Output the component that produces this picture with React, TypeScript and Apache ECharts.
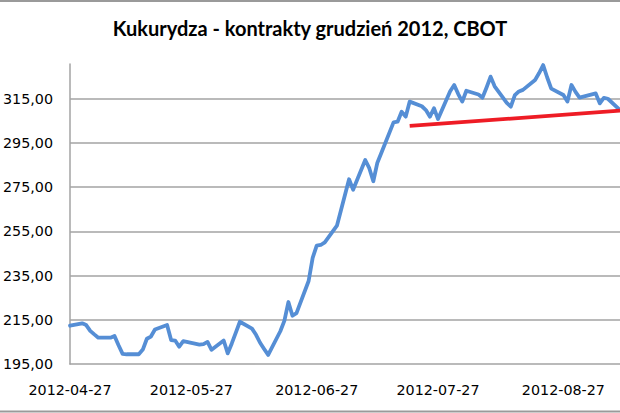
import React, { useEffect, useRef } from 'react';
import * as echarts from 'echarts';

const titleText = 'Kukurydza - kontrakty grudzień 2012, CBOT';

const dates = [
  '2012-04-27', '2012-04-30',
  '2012-05-01', '2012-05-02', '2012-05-03', '2012-05-04', '2012-05-07', '2012-05-08', '2012-05-09', '2012-05-10', '2012-05-11',
  '2012-05-14', '2012-05-15', '2012-05-16', '2012-05-17', '2012-05-18', '2012-05-21', '2012-05-22', '2012-05-23', '2012-05-24',
  '2012-05-25', '2012-05-29', '2012-05-30', '2012-05-31',
  '2012-06-01', '2012-06-04', '2012-06-05', '2012-06-06', '2012-06-07', '2012-06-08', '2012-06-11', '2012-06-12', '2012-06-13',
  '2012-06-14', '2012-06-15', '2012-06-18', '2012-06-19', '2012-06-20', '2012-06-21', '2012-06-22', '2012-06-25', '2012-06-26',
  '2012-06-27', '2012-06-28', '2012-06-29',
  '2012-07-02', '2012-07-03', '2012-07-05', '2012-07-06', '2012-07-09', '2012-07-10', '2012-07-11', '2012-07-12', '2012-07-13',
  '2012-07-16', '2012-07-17', '2012-07-18', '2012-07-19', '2012-07-20', '2012-07-23', '2012-07-24', '2012-07-25', '2012-07-26',
  '2012-07-27', '2012-07-30', '2012-07-31',
  '2012-08-01', '2012-08-02', '2012-08-03', '2012-08-06', '2012-08-07', '2012-08-08', '2012-08-09', '2012-08-10', '2012-08-13',
  '2012-08-14', '2012-08-15', '2012-08-16', '2012-08-17', '2012-08-20', '2012-08-21', '2012-08-22', '2012-08-23', '2012-08-24',
  '2012-08-27', '2012-08-28', '2012-08-29', '2012-08-30', '2012-08-31',
  '2012-09-04', '2012-09-05', '2012-09-06', '2012-09-07', '2012-09-10',
];

const prices = [
  212.3, 213.4,
  212.6, 210.0, 208.4, 206.9, 206.9, 207.7, 203.5, 199.6, 199.4,
  199.4, 201.5, 206.4, 207.4, 210.6, 212.6, 205.8, 205.6, 202.8,
  205.3, 203.8, 204.0, 205.0,
  201.4, 205.6, 199.8, 204.3, 209.2, 214.1, 211.0, 208.2, 204.6,
  201.8, 199.1, 209.8, 214.5, 223.0, 216.8, 218.0, 232.5, 243.0,
  248.5, 248.8, 250.0,
  257.5, 264.5, 278.5, 273.8, 287.2, 283.5, 277.6, 286.0, 290.5,
  304.2, 304.5, 309.0, 306.8, 313.6, 311.5, 309.8, 306.8, 310.6,
  305.7, 318.3, 321.1,
  317.0, 313.6, 318.5, 316.8, 315.4, 320.0, 324.9, 320.5, 313.0,
  311.3, 316.5, 318.2, 318.9, 323.4, 326.5, 330.1, 324.5, 319.5,
  316.6, 313.6, 321.1, 318.0, 315.4,
  317.3, 312.8, 315.3, 314.9, 309.8,
];

const trendDates = ['2012-07-20', '2012-09-10'];
const trendValues = [302.6, 309.5];

const yTicks = [195, 215, 235, 255, 275, 295, 315];
const xLabels = ['2012-04-27', '2012-05-27', '2012-06-27', '2012-07-27', '2012-08-27'];
const xMin = '2012-04-27';
const xMax = '2012-09-10';
const yMin = 195;
const yMax = 330.6;

const ts = (s: string) => {
  const [y, m, d] = s.split('-').map(Number);
  return new Date(y, m - 1, d).getTime();
};
const pad = (n: number) => (n < 10 ? '0' + n : '' + n);
const fmtDate = (v: number) => {
  const d = new Date(v);
  return d.getFullYear() + '-' + pad(d.getMonth() + 1) + '-' + pad(d.getDate());
};

export default function App() {
  const ref = useRef<HTMLDivElement>(null);
  useEffect(() => {
    if (!ref.current) return;
    const chart = echarts.init(ref.current, null, { renderer: 'svg' });
    const gridColor = '#a3a3a3';
    const option: any = {
      animation: false,
      backgroundColor: '#ffffff',
      title: {
        text: titleText,
        left: 'center',
        top: 18,
        padding: 0,
        textStyle: { fontFamily: 'Lato', fontWeight: 'bold', fontSize: 20, color: '#000' },
      },
      graphic: [
        { type: 'line', shape: { x1: 0, y1: 1, x2: 620, y2: 1 }, style: { stroke: '#9a9a9a', lineWidth: 2 } },
        { type: 'line', shape: { x1: 0, y1: 411.5, x2: 620, y2: 411.5 }, style: { stroke: '#9a9a9a', lineWidth: 2 } },
      ],
      grid: { left: 67, right: 0, top: 64, bottom: 49, containLabel: false },
      xAxis: {
        type: 'value',
        min: ts(xMin),
        max: ts(xMax),
        axisLine: { show: true, onZero: false, lineStyle: { color: gridColor, width: 1.5 } },
        axisTick: { show: false },
        splitLine: { show: false },
        axisLabel: {
          customValues: xLabels.map(ts),
          formatter: (v: number) => fmtDate(v),
          margin: 19,
          fontFamily: 'DejaVu Sans',
          fontSize: 14.3,
          color: '#000',
        },
      },
      yAxis: {
        type: 'value',
        min: yMin,
        max: yMax,
        interval: 20,
        axisLine: { show: true, onZero: false, lineStyle: { color: gridColor, width: 1.5 } },
        axisTick: { show: false },
        splitLine: { show: false },
        axisLabel: {
          showMaxLabel: false,
          formatter: (v: number) => (yTicks.includes(Math.round(v)) ? v.toFixed(2).replace('.', ',') : ''),
          margin: 17,
          fontFamily: 'DejaVu Sans',
          fontSize: 14.3,
          color: '#000',
        },
      },
      series: [
        {
          type: 'line',
          data: dates.map((d, i) => [ts(d), prices[i]]),
          showSymbol: false,
          symbol: 'none',
          lineStyle: { color: '#558ed5', width: 3.8, cap: 'round', join: 'round' },
          markLine: {
            silent: true,
            symbol: ['none', 'none'],
            label: { show: false },
            lineStyle: { color: gridColor, width: 1.5, type: 'solid' },
            data: yTicks.slice(1).map((v) => ({ yAxis: v })),
            z: 1,
            zlevel: 0,
          },
          z: 3,
        },
        {
          type: 'line',
          data: trendDates.map((d, i) => [ts(d), trendValues[i]]),
          showSymbol: false,
          symbol: 'none',
          lineStyle: { color: '#ee1c25', width: 3.8 },
          z: 4,
        },
      ],
    };
    chart.setOption(option);
    return () => chart.dispose();
  }, []);
  return (
    <div
      ref={ref}
      style={{ position: 'absolute', left: 0, top: 0, width: 620, height: 413, background: '#fff' }}
    />
  );
}
